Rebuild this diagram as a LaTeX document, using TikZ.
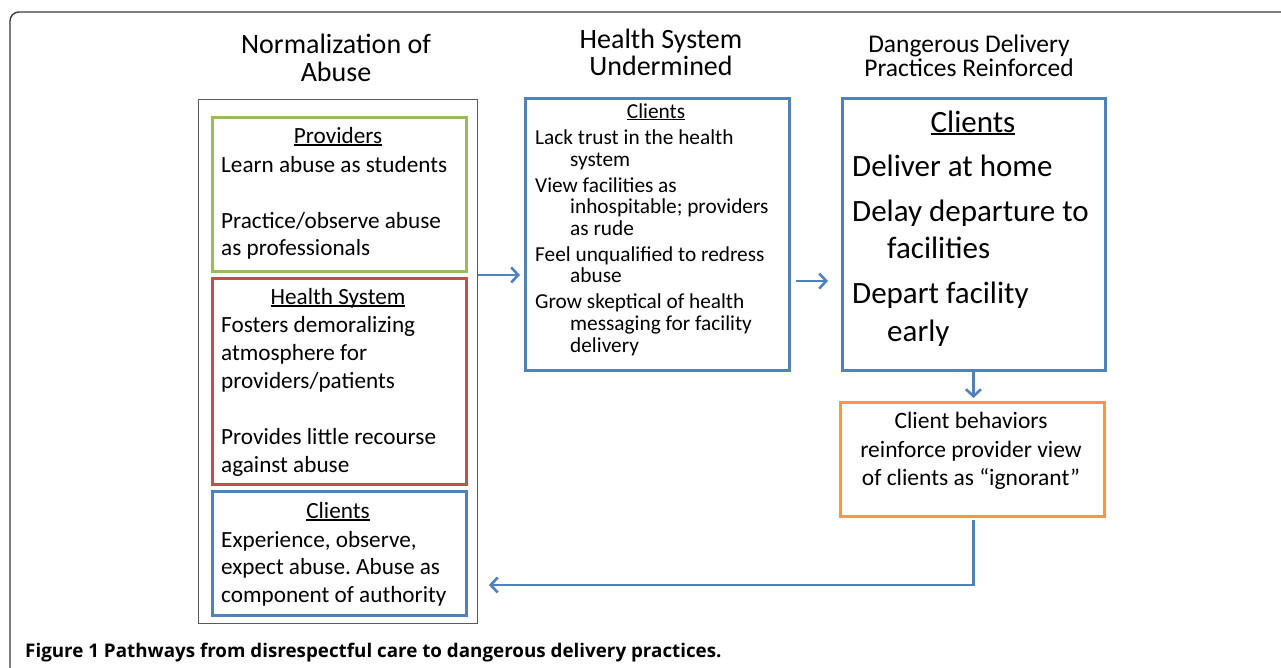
\documentclass[tikz,border=0pt]{standalone}
\usepackage{fontspec}
\setmainfont{Carlito}
\newfontfamily\capfont{Open Sans}
\usetikzlibrary{arrows.meta,calc}
\frenchspacing
\newcommand\myul[1]{\setbox0\hbox{#1}\rlap{\rule[-0.11em]{\wd0}{0.065em}}\box0}
\definecolor{cgreen}{HTML}{9BBB59}
\definecolor{cred}{HTML}{C0504D}
\definecolor{cblue}{HTML}{4F81BD}
\definecolor{corange}{HTML}{F79646}
\definecolor{cframe}{HTML}{3A3A3A}
\tikzset{
  box/.style={draw, line width=2.9pt, inner sep=0pt, anchor=north west},
  ln/.style={inner sep=0pt, anchor=base west},
  cn/.style={inner sep=0pt, anchor=base},
  fl/.style={font=\fontsize{23.2}{28}\selectfont},
  fm/.style={font=\fontsize{21.3}{22}\selectfont},
  fr/.style={font=\fontsize{31}{36}\selectfont},
  fo/.style={font=\fontsize{23.5}{28}\selectfont},
  ft/.style={font=\fontsize{28}{30}\selectfont},
  fs/.style={font=\fontsize{25.5}{28}\selectfont},
  arr/.style={draw=cblue, line width=2.8pt, -{Straight Barb[length=7pt,width=15pt,line width=2.6pt]}},
}
\begin{document}
\begin{tikzpicture}[x=1pt,y=-1pt]
\useasboundingbox (0,0) rectangle (1281,667);
\fill[white] (0,0) rectangle (1281,667);
% outer frame
\draw[cframe, line width=1.4pt, rounded corners=9pt] (1300,12) -- (10,12) -- (10,690);

% titles
\node[cn,ft] (t1a) at (336,53) {Normalization of};
\node[cn,ft] (t1b) at (336,81) {Abuse};
\node[cn,ft] (t2a) at (661,48) {Health System};
\node[cn,ft] (t2b) at (661,75) {Undermined};
\node[cn,fs] (t3a) at (969,52) {Dangerous Delivery};
\node[cn,fs] (t3b) at (969,76) {Practices Reinforced};

% left column
\node[box, draw=black!65, line width=0.9pt, minimum width=279pt, minimum height=524pt] (outer) at (198,99) {};
\node[box, draw=cgreen, minimum width=254pt, minimum height=154pt] (prov) at (211,116) {};
\node[box, draw=cred, minimum width=254pt, minimum height=206pt] (hs) at (211,277) {};
\node[box, draw=cblue, minimum width=254pt, minimum height=124pt] (cl) at (211,490) {};

\node[cn,fl] (p0) at (338,143) {\myul{Providers}};
\node[ln,fl] (p1) at (221,172) {Learn abuse as students};
\node[ln,fl] (p2) at (221,228) {Practice/observe abuse};
\node[ln,fl] (p3) at (221,255) {as professionals};

\node[cn,fl] (h0) at (338,304) {\myul{Health System}};
\node[ln,fl] (h1) at (221,332) {Fosters demoralizing};
\node[ln,fl] (h2) at (221,360) {atmosphere for};
\node[ln,fl] (h3) at (221,388) {providers/patients};
\node[ln,fl] (h4) at (221,444) {Provides little recourse};
\node[ln,fl] (h5) at (221,472) {against abuse};

\node[cn,fl] (c0) at (338,518) {\myul{Clients}};
\node[ln,fl] (c1) at (221,547) {Experience, observe,};
\node[ln,fl] (c2) at (221,574) {expect abuse. Abuse as};
\node[ln,fl] (c3) at (221,602) {component of authority};

% middle column
\node[box, draw=cblue, minimum width=264pt, minimum height=272pt] (mid) at (524,97) {};
\node[cn,fm] (m0) at (656,118) {\myul{Clients}};
\node[ln,fm] (m1) at (535,144) {Lack trust in the health};
\node[ln,fm] (m2) at (570,166) {system};
\node[ln,fm] (m3) at (535,192) {View facilities as};
\node[ln,fm] (m4) at (570,213) {inhospitable; providers};
\node[ln,fm] (m5) at (570,235) {as rude};
\node[ln,fm] (m6) at (535,261) {Feel unqualified to redress};
\node[ln,fm] (m7) at (570,282) {abuse};
\node[ln,fm] (m8) at (535,308) {Grow skeptical of health};
\node[ln,fm] (m9) at (570,330) {messaging for facility};
\node[ln,fm] (m10) at (570,352) {delivery};

% right column
\node[box, draw=cblue, minimum width=263pt, minimum height=272pt] (rt) at (841,97) {};
\node[cn,fr] (r0) at (973,132) {\myul{Clients}};
\node[ln,fr] (r1) at (852,176) {Deliver at home};
\node[ln,fr] (r2) at (852,221) {Delay departure to};
\node[ln,fr] (r3) at (887,258) {facilities};
\node[ln,fr] (r4) at (852,303) {Depart facility};
\node[ln,fr] (r5) at (887,341) {early};

\node[box, draw=corange, minimum width=264pt, minimum height=114pt] (orng) at (839,401) {};
\node[cn,fo] (o1) at (971,428) {Client behaviors};
\node[cn,fo] (o2) at (971,457) {reinforce provider view};
\node[cn,fo] (o3) at (971,485) {of clients as \textquotedblleft ignorant\textquotedblright};

% caption
\node[ln,font=\capfont\bfseries\fontsize{18.8}{20}\selectfont] (cap) at (25,657) {Figure 1 Pathways from disrespectful care to dangerous delivery practices.};

% connectors
\coordinate (ya) at ($(prov.south)!0.5!(hs.north)$);
\coordinate (yb) at (0,281);
\coordinate (yc) at (0,585);
\draw[arr] (outer.east |- ya) -- ([xshift=-4pt]mid.west |- ya);
\draw[arr] ([xshift=5pt]mid.east |- yb) -- ([xshift=-13pt]rt.west |- yb);
\draw[arr] ([xshift=-0.5pt]rt.south) -- ([xshift=1pt,yshift=3pt]orng.north);
\draw[arr] ([xshift=1pt,yshift=-2pt]orng.south) |- ([xshift=11pt]outer.east |- yc);
\end{tikzpicture}
\end{document}
